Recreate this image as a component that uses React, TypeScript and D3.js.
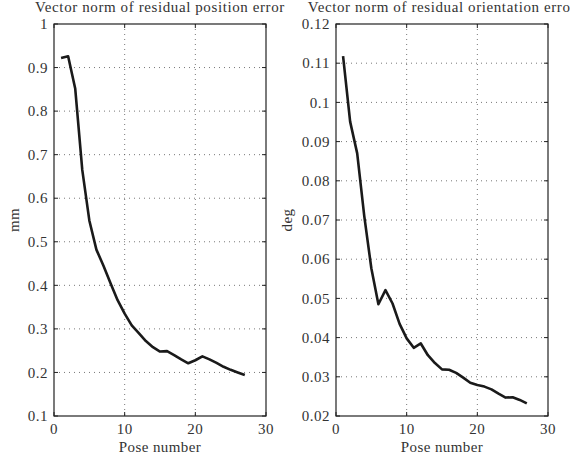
import React, { useEffect, useRef } from 'react';
import * as d3 from 'd3';

// pose numbers 1..27
const poses = [1, 2, 3, 4, 5, 6, 7, 8, 9, 10, 11, 12, 13, 14, 15, 16, 17, 18, 19, 20, 21, 22, 23, 24, 25, 26, 27];

// residual position error (mm)
const positionErr = [0.922, 0.926, 0.852, 0.665, 0.549, 0.482, 0.445, 0.405, 0.366, 0.335, 0.308, 0.29, 0.272, 0.258, 0.248, 0.249, 0.24, 0.23, 0.221, 0.228, 0.237, 0.23, 0.222, 0.213, 0.206, 0.2, 0.194];

// residual orientation error (deg)
const orientationErr = [0.1118, 0.0951, 0.087, 0.071, 0.0577, 0.0485, 0.0521, 0.0487, 0.0435, 0.0398, 0.0374, 0.0385, 0.0355, 0.0335, 0.0319, 0.0318, 0.031, 0.0298, 0.0285, 0.0279, 0.0275, 0.0268, 0.0257, 0.0247, 0.0248, 0.0241, 0.0232];

const xTicks = [0, 10, 20, 30];
const posTicks = [0.1, 0.2, 0.3, 0.4, 0.5, 0.6, 0.7, 0.8, 0.9, 1];
const posTickLabels = ['0.1', '0.2', '0.3', '0.4', '0.5', '0.6', '0.7', '0.8', '0.9', '1'];
const oriTicks = [0.02, 0.03, 0.04, 0.05, 0.06, 0.07, 0.08, 0.09, 0.1, 0.11, 0.12];
const oriTickLabels = ['0.02', '0.03', '0.04', '0.05', '0.06', '0.07', '0.08', '0.09', '0.1', '0.11', '0.12'];

const FONT = 'Liberation Serif, DejaVu Serif, serif';

function txt(sel, size, spacing) {
  return sel
    .attr('font-size', size)
    .attr('font-family', FONT)
    .attr('letter-spacing', spacing)
    .attr('fill', '#333');
}

function drawPanel(svg, opts) {
  const { left, right, top, bottom, yDomain, yTicks, yLabels, values, title, yLabel, yLabelX } = opts;
  const x = d3.scaleLinear().domain([0, 30]).range([left, right]);
  const y = d3.scaleLinear().domain(yDomain).range([bottom, top]);
  const g = svg.append('g');

  // grid
  g.selectAll('.vg')
    .data(xTicks.slice(1, -1))
    .enter().append('line')
    .attr('x1', d => x(d)).attr('x2', d => x(d))
    .attr('y1', top).attr('y2', bottom)
    .attr('stroke', '#555').attr('stroke-width', 0.8).attr('stroke-dasharray', '1,4');
  g.selectAll('.hg')
    .data(yTicks.slice(1, -1))
    .enter().append('line')
    .attr('x1', left).attr('x2', right)
    .attr('y1', d => y(d)).attr('y2', d => y(d))
    .attr('stroke', '#555').attr('stroke-width', 0.8).attr('stroke-dasharray', '1,4');

  // inward ticks on all sides
  yTicks.forEach(t => {
    g.append('line').attr('x1', left).attr('x2', left + 4).attr('y1', y(t)).attr('y2', y(t)).attr('stroke', '#222');
    g.append('line').attr('x1', right).attr('x2', right - 4).attr('y1', y(t)).attr('y2', y(t)).attr('stroke', '#222');
  });
  xTicks.forEach(t => {
    g.append('line').attr('x1', x(t)).attr('x2', x(t)).attr('y1', bottom).attr('y2', bottom - 4).attr('stroke', '#222');
    g.append('line').attr('x1', x(t)).attr('x2', x(t)).attr('y1', top).attr('y2', top + 4).attr('stroke', '#222');
  });

  // box
  g.append('rect')
    .attr('x', left).attr('y', top)
    .attr('width', right - left).attr('height', bottom - top)
    .attr('fill', 'none').attr('stroke', '#222').attr('stroke-width', 1.2);

  // tick labels
  txt(g.selectAll('.yl')
    .data(yTicks)
    .enter().append('text')
    .attr('x', left - 6).attr('y', d => y(d))
    .attr('dy', '0.35em')
    .attr('text-anchor', 'end'), 15, 0.5)
    .text((d, i) => yLabels[i]);
  txt(g.selectAll('.xl')
    .data(xTicks)
    .enter().append('text')
    .attr('x', d => x(d)).attr('y', bottom + 17.5)
    .attr('text-anchor', 'middle'), 15, 0.5)
    .text(d => d);

  // labels
  txt(g.append('text')
    .attr('x', (left + right) / 2).attr('y', bottom + 36)
    .attr('text-anchor', 'middle'), 15, 0.4)
    .text('Pose number');
  txt(g.append('text')
    .attr('transform', `translate(${yLabelX},${(top + bottom) / 2}) rotate(-90)`)
    .attr('text-anchor', 'middle'), 15, 0.4)
    .text(yLabel);
  txt(g.append('text')
    .attr('x', (left + right) / 2).attr('y', 12)
    .attr('text-anchor', 'middle'), 15, 0.6)
    .text(title);

  // data line
  const line = d3.line()
    .x((d, i) => x(poses[i]))
    .y(d => y(d));
  g.append('path')
    .datum(values)
    .attr('d', line)
    .attr('fill', 'none')
    .attr('stroke', '#1a1a1a')
    .attr('stroke-width', 2.6)
    .attr('stroke-linejoin', 'round');
}

export default function App() {
  const ref = useRef(null);

  useEffect(() => {
    const svg = d3.select(ref.current);
    svg.selectAll('*').remove();
    svg.append('rect').attr('width', 570).attr('height', 461).attr('fill', '#fff');

    drawPanel(svg, {
      left: 54, right: 266, top: 24, bottom: 416,
      yDomain: [0.1, 1], yTicks: posTicks, yLabels: posTickLabels,
      values: positionErr,
      title: 'Vector norm of residual position error',
      yLabel: 'mm', yLabelX: 19,
    });
    drawPanel(svg, {
      left: 336, right: 548, top: 24, bottom: 416,
      yDomain: [0.02, 0.12], yTicks: oriTicks, yLabels: oriTickLabels,
      values: orientationErr,
      title: 'Vector norm of residual orientation error',
      yLabel: 'deg', yLabelX: 292,
    });
  }, []);

  return (
    <svg
      ref={ref}
      width={570}
      height={461}
      style={{ position: 'absolute', left: 0, top: 0 }}
    />
  );
}
